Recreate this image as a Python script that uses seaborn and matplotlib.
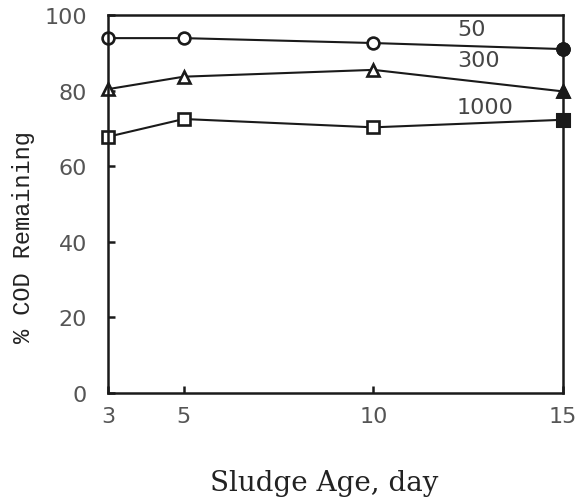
import pandas as pd
import seaborn as sns
import matplotlib.pyplot as plt

# 데이터
sludge_age = [3, 5, 10, 15]
cod_50 = [93.9, 93.9, 92.6, 91.0]
cod_300 = [80.4, 83.7, 85.5, 79.8]
cod_1000 = [67.8, 72.5, 70.3, 72.3]
series_names = ["50", "300", "1000"]
series_markers = ["o", "^", "s"]

df = pd.DataFrame({
    "age": sludge_age * 3,
    "cod": cod_50 + cod_300 + cod_1000,
    "series": sum([[s] * len(sludge_age) for s in series_names], []),
})

sns.set_style("ticks")
fig = plt.figure(figsize=(5.77, 5.02), dpi=100)
ax = fig.add_axes([0.187, 0.215, 0.789, 0.753])

ink = "#1a1a1a"
for name, mk in zip(series_names, series_markers):
    d = df[df["series"] == name]
    sns.lineplot(data=d, x="age", y="cod", ax=ax, color=ink, lw=1.5,
                 marker=mk, markersize=8.5, markerfacecolor="white",
                 markeredgecolor=ink, markeredgewidth=1.9, clip_on=False)
    # 마지막 점은 채워진 마커
    last = d[d["age"] == sludge_age[-1]]
    sns.scatterplot(data=last, x="age", y="cod", ax=ax, marker=mk, s=95,
                    color=ink, edgecolor=ink, clip_on=False, zorder=5)

# 시리즈 라벨
label_pos = {"50": (12.2, 96.4), "300": (12.2, 88.1), "1000": (12.2, 75.7)}
for name in series_names:
    x, y = label_pos[name]
    ax.text(x, y, name, fontsize=16, color="#454545", family="DejaVu Sans",
            ha="left", va="center")

ax.set_xlim(3, 15)
ax.set_ylim(0, 100)
ax.set_xticks([3, 5, 10, 15])
ax.set_yticks([0, 20, 40, 60, 80, 100])
ax.tick_params(direction="in", length=5, width=1.8, color=ink,
               labelsize=16, labelcolor="#555555")
ax.tick_params(axis="y", pad=15)
ax.tick_params(axis="x", pad=9)
for sp in ax.spines.values():
    sp.set_linewidth(1.8)
    sp.set_color(ink)

ax.set_xlabel("Sludge Age, day", fontsize=20, family="DejaVu Serif",
              color="#222222")
ax.set_ylabel("% COD Remaining", fontsize=17, family="Liberation Mono",
              color="#222222")
ax.xaxis.set_label_coords(0.475, -0.2)
ax.yaxis.set_label_coords(-0.16, 0.415)

fig.savefig("out.png", dpi=100, facecolor="white")
